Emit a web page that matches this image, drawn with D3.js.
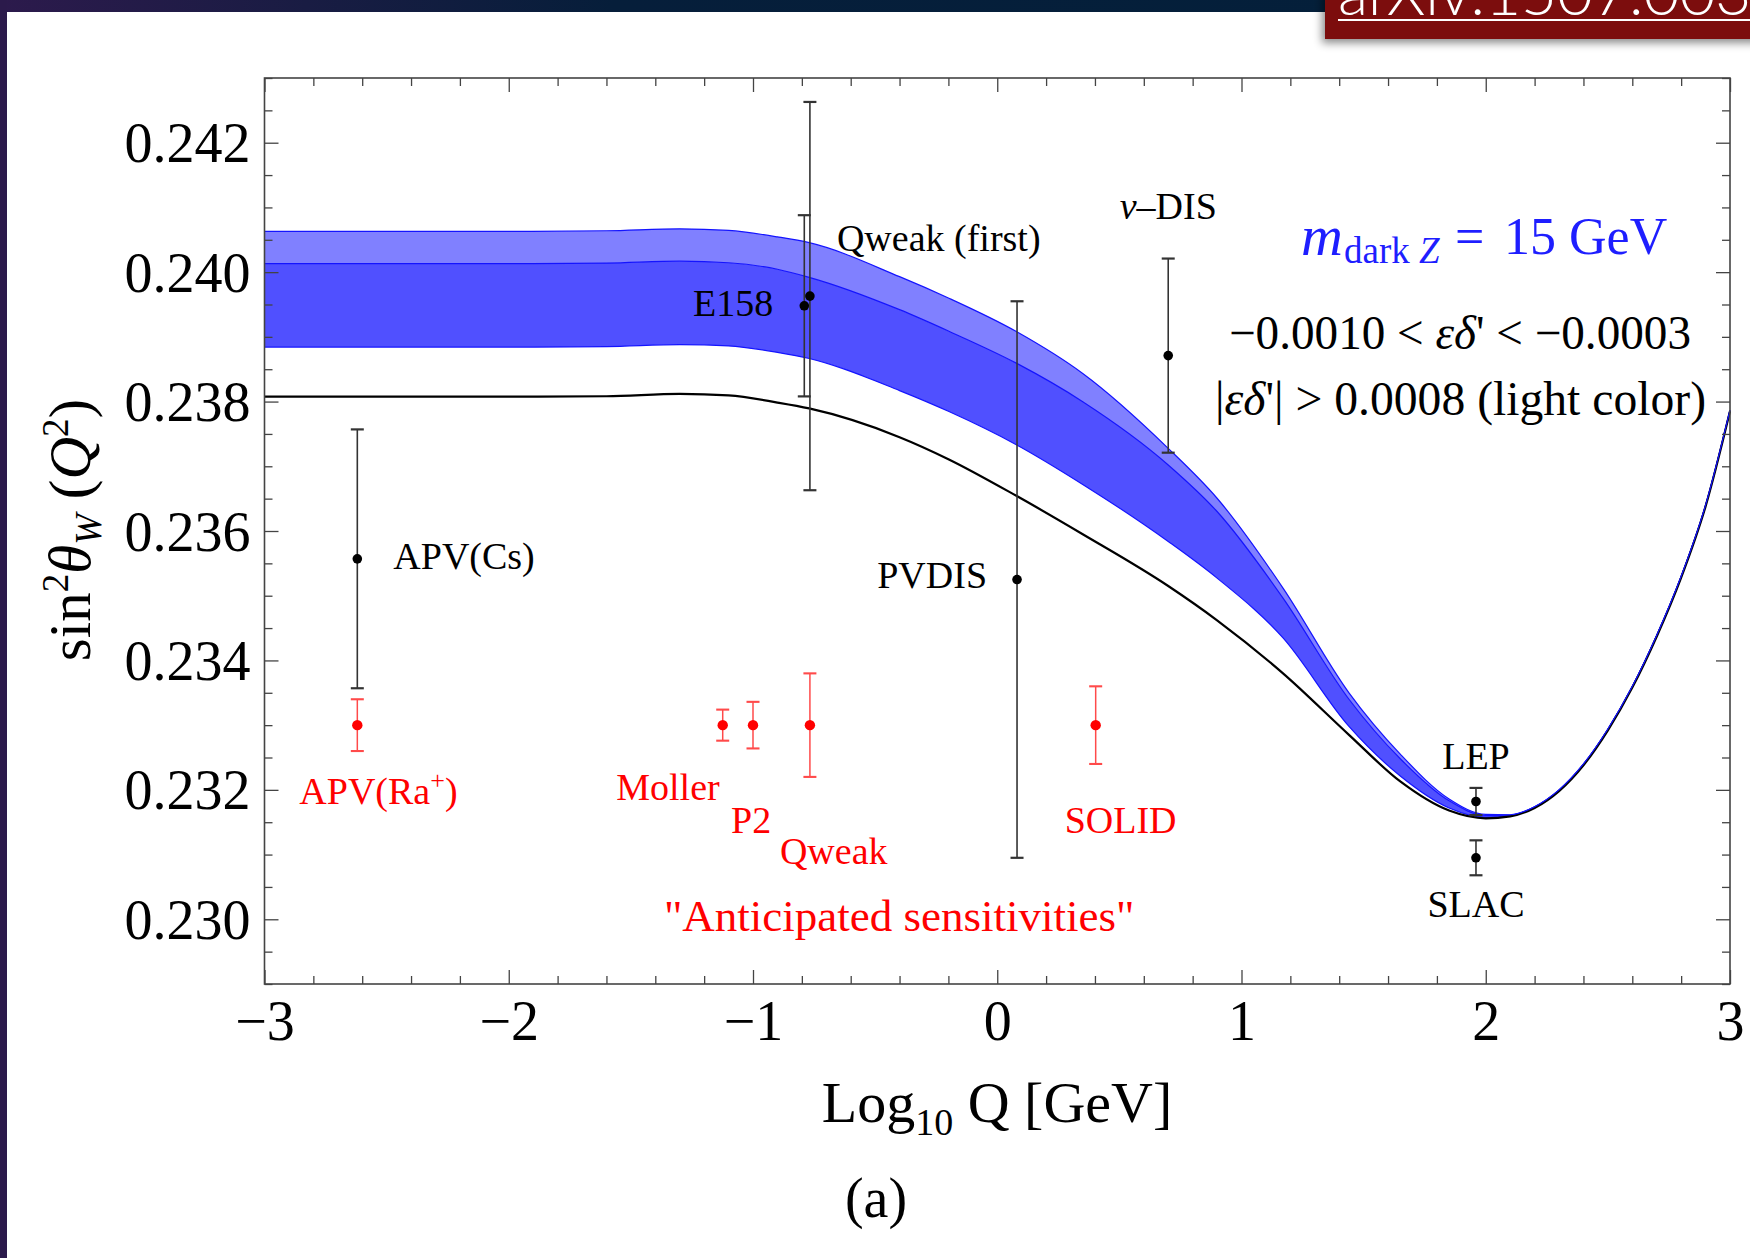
<!DOCTYPE html>
<html>
<head>
<meta charset="utf-8">
<script src="https://cdn.jsdelivr.net/npm/d3@7"></script>
<style>
body { margin: 0; background: #fff; }
text { font-family: "Liberation Serif", "Times New Roman", serif; }
</style>
</head>
<body>
<svg id="chart" width="1750" height="1258"></svg>
<script>
// running of sin^2 theta_W
var curveX  = [-3, -2, -1.6, -1.3, -1.1, -0.9, -0.77, -0.4, -0.2, 0.08, 0.35, 0.7, 0.9, 1.17, 1.44, 1.65, 1.85, 2.0, 2.1, 2.2, 2.3, 2.4, 2.5, 2.6, 2.7, 2.8, 2.9, 3.0];
var smLine  = [0.238075, 0.238075, 0.238082, 0.238120, 0.238095, 0.237985, 0.237894, 0.237450, 0.237110, 0.236540, 0.235950, 0.235150, 0.234620, 0.233800, 0.232850, 0.232130, 0.231680, 0.231560, 0.231590, 0.231720, 0.231980, 0.232380, 0.232920, 0.233580, 0.234370, 0.235280, 0.236380, 0.237850];
var bandTop = [0.240631, 0.240631, 0.240640, 0.240670, 0.240645, 0.240545, 0.240455, 0.239930, 0.239600, 0.239078, 0.238434, 0.237277, 0.236506, 0.235118, 0.233500, 0.232553, 0.231859, 0.231620, 0.231615, 0.231740, 0.232000, 0.232400, 0.232940, 0.233600, 0.234390, 0.235300, 0.236400, 0.237868];
var bandMid = [0.240131, 0.240131, 0.240140, 0.240170, 0.240145, 0.240045, 0.239920, 0.239420, 0.239090, 0.238590, 0.237998, 0.237021, 0.236301, 0.234964, 0.233400, 0.232480, 0.231830, 0.231605, 0.231610, 0.231737, 0.231997, 0.232397, 0.232937, 0.233597, 0.234387, 0.235297, 0.236397, 0.237866];
var bandLow = [0.238842, 0.238842, 0.238850, 0.238880, 0.238860, 0.238760, 0.238666, 0.238170, 0.237850, 0.237330, 0.236720, 0.235838, 0.235272, 0.234347, 0.232980, 0.232214, 0.231720, 0.231575, 0.231603, 0.231734, 0.231994, 0.232394, 0.232934, 0.233594, 0.234384, 0.235294, 0.236394, 0.237864];

// measurements (black)
var measNames = ["APV(Cs)", "E158", "Qweak (first)", "PVDIS", "ν–DIS", "LEP", "SLAC"];
var measX     = [-2.62, -0.79, -0.767, 0.081, 0.70, 1.96, 1.96];
var measY     = [0.23557, 0.23948, 0.23963, 0.23525, 0.23871, 0.23182, 0.23095];
var measErr   = [0.0020, 0.0014, 0.0030, 0.0043, 0.0015, 0.00021, 0.00027];

// anticipated sensitivities (red)
var futNames = ["APV(Ra+)", "Moller", "P2", "Qweak", "SOLID"];
var futX     = [-2.62, -1.124, -1.0, -0.767, 0.403];
var futY     = [0.233, 0.233, 0.233, 0.233, 0.233];
var futErr   = [0.0004, 0.00024, 0.00036, 0.0008, 0.0006];

var xTicks = [-3, -2, -1, 0, 1, 2, 3];
var yTicks = [0.230, 0.232, 0.234, 0.236, 0.238, 0.240, 0.242];

var svg = d3.select("#chart");

// page decoration (slide background)
var defs = svg.append("defs");
var grad = defs.append("linearGradient").attr("id", "topbar");
grad.append("stop").attr("offset", "0%").attr("stop-color", "#2c1a4c");
grad.append("stop").attr("offset", "35%").attr("stop-color", "#061e3a");
grad.append("stop").attr("offset", "100%").attr("stop-color", "#03203a");
defs.append("filter").attr("id", "shadow").attr("x", "-10%").attr("y", "-50%").attr("width", "130%").attr("height", "250%")
  .append("feDropShadow").attr("dx", -3).attr("dy", 4).attr("stdDeviation", 4).attr("flood-opacity", 0.45);

svg.append("rect").attr("x", 0).attr("y", 0).attr("width", 1750).attr("height", 12).attr("fill", "url(#topbar)");
svg.append("rect").attr("x", 0).attr("y", 0).attr("width", 7).attr("height", 1258).attr("fill", "#2b1a4b");

var badge = svg.append("g");
badge.append("rect").attr("x", 1325).attr("y", -10).attr("width", 440).attr("height", 49)
  .attr("fill", "#7c0f0b").attr("filter", "url(#shadow)");
badge.append("text").attr("x", 1338).attr("y", 15)
  .style("font-family", "Lato, 'Open Sans', sans-serif").style("font-weight", 300)
  .attr("font-size", 62).attr("fill", "#fff").text("arXiv:1507.00352");
badge.append("line").attr("x1", 1338).attr("x2", 1750).attr("y1", 20).attr("y2", 20)
  .attr("stroke", "#fff").attr("stroke-width", 2);

// scales
var x = d3.scaleLinear().domain([-3, 3]).range([264.5, 1730]);
var y = d3.scaleLinear().domain([0.229, 0.243]).range([984, 78]);

var curve = d3.curveMonotoneX;
var idx = d3.range(curveX.length);
function edge(arr) {
  return d3.line().curve(curve).x(i => x(curveX[i])).y(i => y(arr[i]))(idx);
}

// band
svg.append("path")
  .attr("d", d3.area().curve(curve).x(i => x(curveX[i])).y0(i => y(bandMid[i])).y1(i => y(bandTop[i]))(idx))
  .attr("fill", "#8080ff");
svg.append("path")
  .attr("d", d3.area().curve(curve).x(i => x(curveX[i])).y0(i => y(bandLow[i])).y1(i => y(bandMid[i]))(idx))
  .attr("fill", "#5050ff");
[bandMid, bandLow].forEach(function(arr) {
  svg.append("path").attr("d", edge(arr))
    .attr("fill", "none").attr("stroke", "#1414ff").attr("stroke-width", 1.2);
});

// SM curve
svg.append("path").attr("d", edge(smLine))
  .attr("fill", "none").attr("stroke", "#000").attr("stroke-width", 2.2);

svg.append("path").attr("d", edge(bandTop))
  .attr("fill", "none").attr("stroke", "#1414ff").attr("stroke-width", 1.2);

// frame + ticks
var frame = svg.append("g").attr("class", "frame");
function tickAxis(axis, tr, vals, size, fmt, pad) {
  var g = frame.append("g").attr("transform", tr)
    .call(axis.tickValues(vals).tickSize(size).tickPadding(pad).tickFormat(fmt));
  g.select(".domain").remove();
  g.selectAll("line").attr("stroke", "#444").attr("stroke-width", 1.3);
  return g;
}
var xMinor = d3.range(-3, 3.001, 0.2).filter(v => Math.abs(v - Math.round(v)) > 0.01);
var yMinor = d3.range(0.229, 0.24301, 0.0005).filter(v => Math.abs(v * 500 - Math.round(v * 500)) > 0.01);

var gb = tickAxis(d3.axisBottom(x), "translate(0,984)", xTicks, -14, d3.format("d"), 16);
tickAxis(d3.axisBottom(x), "translate(0,984)", xMinor, -8, "", 0);
tickAxis(d3.axisTop(x), "translate(0,78)", xTicks, -14, "", 0);
tickAxis(d3.axisTop(x), "translate(0,78)", xMinor, -8, "", 0);
var gl = tickAxis(d3.axisLeft(y), "translate(264.5,0)", yTicks, -14, d3.format(".3f"), 14);
tickAxis(d3.axisLeft(y), "translate(264.5,0)", yMinor, -8, "", 0);
tickAxis(d3.axisRight(y), "translate(1730,0)", yTicks, -14, "", 0);
tickAxis(d3.axisRight(y), "translate(1730,0)", yMinor, -8, "", 0);

gb.selectAll("text").attr("font-size", 56).attr("fill", "#000")
  .style("font-family", "'Liberation Serif', serif");
gl.selectAll("text").attr("font-size", 56).attr("fill", "#000").attr("dy", "0.34em")
  .style("font-family", "'Liberation Serif', serif");

frame.append("rect").attr("x", 264.5).attr("y", 78).attr("width", 1730 - 264.5).attr("height", 984 - 78)
  .attr("fill", "none").attr("stroke", "#444").attr("stroke-width", 1.6);

// error bars
function errBars(xs, ys, es, lineColor, dotColor, lw, r) {
  var g = svg.append("g");
  xs.forEach(function(xv, i) {
    var cx = x(xv), top = y(ys[i] + es[i]), bot = y(ys[i] - es[i]);
    g.append("line").attr("x1", cx).attr("x2", cx).attr("y1", top).attr("y2", bot)
      .attr("stroke", lineColor).attr("stroke-width", lw);
    [top, bot].forEach(function(yy) {
      g.append("line").attr("x1", cx - 6.5).attr("x2", cx + 6.5).attr("y1", yy).attr("y2", yy)
        .attr("stroke", lineColor).attr("stroke-width", lw + 0.6);
    });
    g.append("circle").attr("cx", cx).attr("cy", y(ys[i])).attr("r", r).attr("fill", dotColor);
  });
}
errBars(measX, measY, measErr, "#333", "#000", 1.6, 4.8);
errBars(futX, futY, futErr, "#ff4a4a", "#ff0000", 1.5, 5.2);

// point labels: offsets in pixels from the marker
var measOff = [[36, 10, "start"], [-31, 10, "end"], [27, -45, "start"], [-30, 8, "end"], [0, -137, "middle"], [0, -33, "middle"], [0, 59, "middle"]];
var futOff  = [[-58, 79, "start"], [-3, 75, "end"], [-22, 108, "start"], [-30, 139, "start"], [-31, 108, "start"]];

measNames.forEach(function(n, i) {
  var t = svg.append("text").attr("x", x(measX[i]) + measOff[i][0]).attr("y", y(measY[i]) + measOff[i][1])
    .attr("text-anchor", measOff[i][2]).attr("font-size", 38).attr("fill", "#000");
  if (n.charAt(0) === "ν") {
    t.append("tspan").style("font-style", "italic").text("ν");
    t.append("tspan").text(n.slice(1));
  } else t.text(n);
});
futNames.forEach(function(n, i) {
  var t = svg.append("text").attr("x", x(futX[i]) + futOff[i][0]).attr("y", y(futY[i]) + futOff[i][1])
    .attr("text-anchor", futOff[i][2]).attr("font-size", 38).attr("fill", "#ff0000");
  if (n.indexOf("+") > 0) {
    t.append("tspan").text("APV(Ra");
    t.append("tspan").attr("font-size", 26).attr("dy", -15).text("+");
    t.append("tspan").attr("dy", 15).text(")");
  } else t.text(n);
});

svg.append("text").attr("x", 664).attr("y", 931).attr("font-size", 45).attr("fill", "#ff0000")
  .text("\"Anticipated sensitivities\"");

// annotations
var blue = "#1e1eff";
svg.append("text").attr("x", 1301).attr("y", 255).attr("font-size", 58).attr("fill", blue)
  .style("font-style", "italic").text("m");
var sub = svg.append("text").attr("x", 1344).attr("y", 263).attr("font-size", 37).attr("fill", blue);
sub.append("tspan").text("dark ");
sub.append("tspan").style("font-style", "italic").text("Z");
svg.append("text").attr("x", 1455).attr("y", 254).attr("font-size", 52).attr("fill", blue).text("=");
svg.append("text").attr("x", 1504).attr("y", 254).attr("font-size", 52).attr("fill", blue).text("15 GeV");

var l1 = svg.append("text").attr("x", 1229).attr("y", 349).attr("font-size", 48).attr("fill", "#000")
  .attr("textLength", 462).attr("lengthAdjust", "spacingAndGlyphs");
l1.append("tspan").text("−0.0010 < ");
l1.append("tspan").style("font-style", "italic").text("εδ");
l1.append("tspan").text("' < −0.0003");

var l2 = svg.append("text").attr("x", 1215).attr("y", 415).attr("font-size", 48).attr("fill", "#000")
  .attr("textLength", 491).attr("lengthAdjust", "spacingAndGlyphs");
l2.append("tspan").text("|");
l2.append("tspan").style("font-style", "italic").text("εδ");
l2.append("tspan").text("'| > 0.0008  (light color)");

// axis titles
var xt = svg.append("text").attr("x", 997).attr("y", 1122).attr("text-anchor", "middle").attr("font-size", 58);
xt.append("tspan").text("Log");
xt.append("tspan").attr("font-size", 38).attr("dy", 13).text("10");
xt.append("tspan").attr("dy", -13).text(" Q [GeV]");

var yt = svg.append("text").attr("transform", "translate(90,530) rotate(-90)")
  .attr("text-anchor", "middle").attr("font-size", 59);
yt.append("tspan").text("sin");
yt.append("tspan").attr("font-size", 37).attr("dy", -22).text("2");
yt.append("tspan").attr("dy", 22).style("font-style", "italic").text("θ");
yt.append("tspan").attr("font-size", 37).attr("dy", 11).style("font-style", "italic").text("W");
yt.append("tspan").attr("dy", -11).text(" (");
yt.append("tspan").style("font-style", "italic").text("Q");
yt.append("tspan").attr("font-size", 37).attr("dy", -22).text("2");
yt.append("tspan").attr("dy", 22).text(")");

svg.append("text").attr("x", 876).attr("y", 1217).attr("text-anchor", "middle").attr("font-size", 56).text("(a)");
</script>
</body>
</html>
